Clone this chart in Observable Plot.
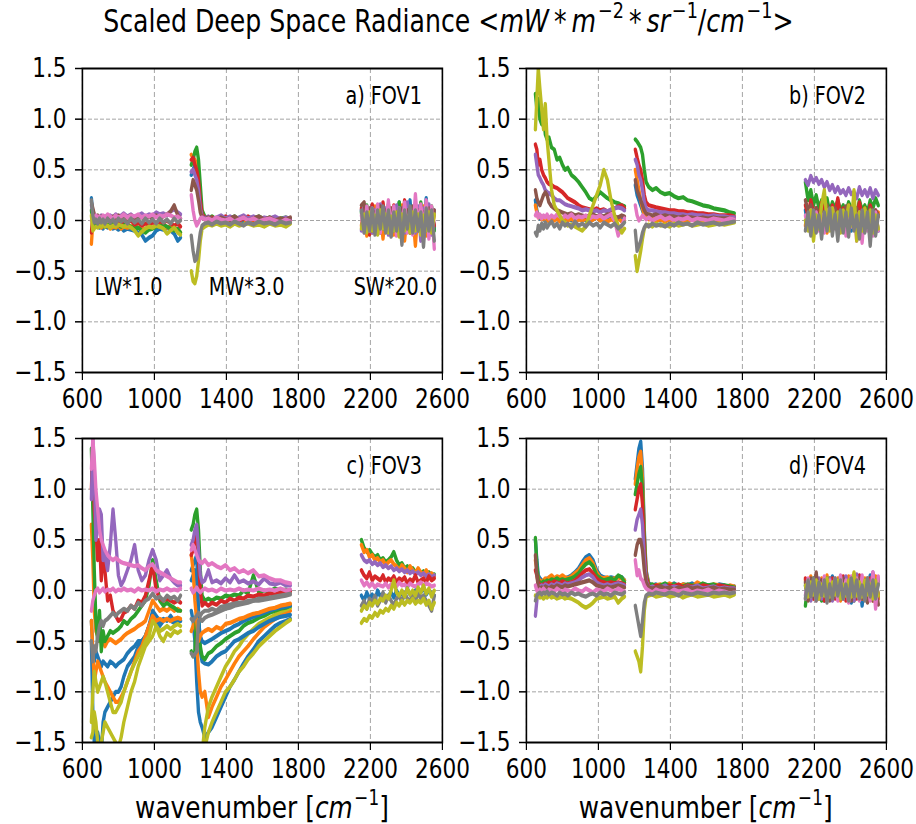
<!DOCTYPE html>
<html><head><meta charset="utf-8">
<script src="https://cdn.jsdelivr.net/npm/d3@7"></script>
<script src="https://cdn.jsdelivr.net/npm/@observablehq/plot@0.6"></script>
<style>
html,body{margin:0;padding:0;background:#fff;overflow:hidden;width:916px;height:824px;}
#fig{position:absolute;left:0;top:0;width:1145px;height:824px;transform:scaleX(0.8);transform-origin:0 0;font-family:"DejaVu Sans";color:#000;}
.abs{position:absolute;}
#title{left:0;width:1121px;top:6px;text-align:center;font-size:31.5px;line-height:31.5px;white-space:nowrap;}
.xlabel{width:450px;top:791.8px;text-align:center;font-size:31px;line-height:31px;white-space:nowrap;}
.sup{font-size:0.7em;position:relative;top:-0.62em;margin-left:0.1em;}
.xlabel .sup{top:-0.6em;font-size:0.68em;}
i{font-style:oblique;}
</style></head>
<body><div id="fig"></div>
<script>
// ---- colors (matplotlib tab10) ----
const COLORS = {blue:"#1f77b4",orange:"#ff7f0e",green:"#2ca02c",red:"#d62728",purple:"#9467bd",brown:"#8c564b",pink:"#e377c2",gray:"#7f7f7f",olive:"#bcbd22"};

// ---- wavenumber grids per band ----
const LW_X = [650,658,666,675,685,695,705,715,725,740,755,770,785,800,815,830,850,870,890,910,930,950,970,990,1010,1030,1050,1070,1090,1110,1130,1145];
const MW_X = [1205,1215,1225,1235,1245,1255,1265,1280,1300,1320,1345,1370,1395,1420,1445,1470,1495,1520,1550,1580,1610,1640,1670,1700,1730,1755];
const SW_X = [2150,2165,2180,2195,2210,2225,2240,2255,2270,2285,2300,2315,2330,2345,2360,2375,2390,2405,2420,2435,2450,2465,2480,2495,2510,2525,2540,2555];
const X_TICKS = [600,1000,1400,1800,2200,2600];
const Y_TICKS = [-1.5,-1,-0.5,0,0.5,1,1.5];

// ---- a) FOV1 ----
const A_LW = {
 blue:[.22,.05,-.03,-.06,-.05,-.07,-.06,-.08,-.05,-.07,-.06,-.08,-.07,-.09,-.07,-.1,-.08,-.09,-.1,-.12,-.14,-.2,-.17,-.15,-.1,-.08,-.09,-.07,-.1,-.13,-.2,-.17],
 orange:[-.23,-.02,-.05,-.04,-.06,-.05,-.07,-.05,-.06,-.05,-.08,-.06,-.07,-.05,-.08,-.06,-.07,-.06,-.05,-.07,-.09,-.08,-.06,-.07,-.05,-.06,-.05,-.07,-.06,-.08,-.1,-.12],
 green:[.1,0,-.04,-.03,-.05,-.04,-.05,-.03,-.06,-.04,-.05,-.03,-.05,-.04,-.06,-.04,-.05,-.06,-.08,-.07,-.1,-.12,-.09,-.08,-.06,-.05,-.04,-.06,-.08,-.1,-.08,-.12],
 red:[-.12,.06,.02,0,-.02,.01,-.03,0,-.02,.01,-.01,.02,-.02,0,-.03,.01,-.02,0,-.04,-.02,-.05,-.03,-.04,-.02,-.03,-.01,-.02,0,-.03,-.05,-.03,-.06],
 purple:[.15,.1,.05,.03,.04,.02,.05,.03,.04,.02,.05,.03,.06,.04,.05,.07,.04,.06,.03,.05,.07,.04,.06,.05,.08,.06,.07,.05,.09,.11,.08,.06],
 brown:[.18,.12,.06,.03,.05,.02,.04,.02,.03,.05,.02,.04,.03,.05,.02,.04,.03,.05,.02,.04,.03,.02,.04,.03,.05,.03,.04,.06,.09,.15,.05,.02],
 pink:[0,.04,.02,.05,.03,.04,.02,.05,.03,.06,.04,.02,.05,.03,.04,.06,.03,.05,.04,.06,.03,.05,.04,.06,.03,.05,.04,.06,.05,.03,.04,.02],
 olive:[.05,-.1,-.08,-.06,-.07,-.05,-.06,-.04,-.06,-.05,-.07,-.05,-.06,-.04,-.05,-.06,-.05,-.07,-.1,-.15,-.11,-.08,-.06,-.07,-.05,-.06,-.08,-.13,-.1,-.07,-.12,-.14],
 gray:[.2,.05,-.02,.01,-.03,.02,-.02,.01,-.03,.02,-.02,.01,-.03,.02,-.01,.01,-.03,.02,-.02,.01,-.03,.02,-.02,.01,-.03,.02,-.02,.01,-.03,.02,-.02,0]
};
const A_MW = {
 blue:[.45,.5,.55,.5,.35,.15,.05,.03,.02,0,.01,-.01,.02,0,-.02,.01,-.01,.02,0,-.03,.01,0,-.02,.01,-.01,0],
 orange:[.65,.62,.6,.55,.4,.2,.07,.03,0,.02,-.01,.01,-.02,.02,-.01,0,.02,-.02,.01,-.01,.02,0,-.01,.02,-.02,0],
 green:[.55,.6,.68,.72,.6,.35,.1,.04,.02,.04,.01,.03,0,.02,.04,.01,.03,0,.02,.04,.01,.03,0,.02,.03,.01],
 red:[.6,.62,.55,.5,.4,.2,.06,.03,.01,.03,0,.02,.04,.01,.03,0,.02,.04,.01,.03,0,.02,.03,.01,.02,0],
 purple:[.48,.5,.45,.4,.3,.12,.04,.02,.04,.01,.03,.05,.02,.04,.01,.03,.05,.02,.04,.01,.03,.02,.04,.01,.03,.02],
 brown:[.3,.4,.35,.3,.2,.08,.03,.01,.03,.02,0,.03,.01,.02,.04,.01,.03,0,.02,.04,.01,.03,0,.02,.01,.03],
 pink:[.25,.1,0,-.05,-.02,.02,.03,.01,.02,0,.03,.01,0,.02,-.01,.01,.03,0,.02,-.01,.01,.02,0,-.02,.01,-.01],
 olive:[-.5,-.6,-.62,-.55,-.4,-.2,-.08,-.06,-.04,-.05,-.03,-.05,-.04,-.06,-.03,-.05,-.04,-.03,-.05,-.04,-.06,-.03,-.05,-.04,-.06,-.03],
 gray:[-.15,-.3,-.4,-.38,-.25,-.12,-.05,-.03,-.02,-.04,-.01,-.03,-.02,-.04,-.01,-.03,-.05,-.02,-.04,-.01,-.03,-.02,-.04,-.01,-.03,-.02]
};
const A_SW = {
 blue:[.1,-.08,.12,-.05,.15,-.1,.08,-.12,.14,-.06,.1,-.15,.12,-.08,.18,-.1,.09,-.05,.2,-.12,.1,-.08,.16,-.1,.22,-.06,.12,-.08],
 orange:[-.05,.12,-.15,.1,-.12,.14,-.08,.1,-.18,.08,-.1,.12,-.14,.1,-.08,.15,-.2,.1,-.12,.08,-.25,.12,-.1,.14,-.15,.1,-.12,.06],
 green:[.08,-.1,.15,-.06,.1,-.12,.14,-.08,.12,-.1,.16,-.05,.1,-.12,.18,-.08,.14,-.1,.12,-.06,.15,-.1,.18,-.12,.1,-.08,.14,-.1],
 red:[.12,-.06,.1,-.14,.16,-.08,.12,-.1,.18,-.05,.1,-.12,.15,-.1,.08,-.14,.2,-.08,.12,-.1,.14,-.06,.1,-.15,.16,-.1,.12,-.05],
 purple:[-.1,.14,-.08,.12,-.12,.1,-.1,.16,-.06,.12,-.14,.1,-.08,.15,-.1,.12,-.12,.18,-.08,.1,-.12,.14,-.2,.12,-.1,.16,-.14,.1],
 brown:[.15,.18,-.05,.12,-.1,.08,-.12,.14,-.08,.1,-.06,.12,-.1,.08,-.14,.12,-.08,.1,-.12,.14,-.06,.1,-.12,.08,-.1,.12,-.08,.1],
 pink:[.05,-.12,.14,-.1,.12,-.08,.16,-.12,.1,-.06,.2,-.1,.14,-.15,.12,-.08,.18,-.12,.1,-.14,.26,-.1,.16,-.12,.2,-.18,.14,-.28],
 olive:[-.08,.06,-.12,.08,-.1,.05,-.14,.1,-.08,.06,-.12,.04,-.1,.08,-.16,.06,-.1,.04,-.12,.08,-.1,.06,-.14,.05,-.1,.08,-.12,.06],
 gray:[.1,-.12,.08,-.1,.12,-.14,.1,-.08,.14,-.12,.1,-.16,.08,-.1,.12,-.24,.1,-.08,.14,-.12,.1,-.1,.08,-.26,.12,-.1,.1,-.2]
};

// ---- b) FOV2 ----
const B_LW = {
 blue:[.2,.1,.05,.02,.04,.01,.03,0,.02,.04,.01,.03,0,.02,.01,.03,0,.02,.01,.03,0,.02,.01,.03,0,.02,.01,.03,0,.02,.01,0],
 orange:[.15,.08,.03,.05,.01,.03,0,.02,-.01,.03,0,.02,-.01,.01,.03,0,.02,-.01,.01,0,.02,-.01,.01,.03,0,.02,-.01,.01,0,.02,-.01,0],
 green:[1.25,1.1,1.2,1,.95,1.05,.85,.8,.82,.72,.7,.6,.62,.55,.5,.52,.45,.42,.38,.33,.28,.22,.2,.24,.28,.25,.22,.2,.18,.17,.15,.14],
 red:[.75,.7,.55,.6,.5,.45,.42,.38,.36,.35,.33,.32,.3,.28,.25,.22,.2,.18,.15,.13,.12,.11,.1,.12,.1,.11,.09,.1,.12,.14,.15,.12],
 purple:[.65,.55,.45,.42,.38,.35,.3,.28,.27,.25,.22,.2,.2,.18,.16,.15,.14,.13,.12,.1,.11,.1,.09,.1,.08,.1,.09,.11,.12,.13,.12,.1],
 brown:[.3,.22,.18,.15,.2,.25,.28,.25,.18,.14,.12,.1,.09,.08,.07,.06,.07,.05,.06,.05,.04,.05,.06,.04,.05,.04,.06,.05,.04,.03,.05,.04],
 pink:[.05,.08,.03,.06,.02,.05,.03,.06,.02,.05,.03,.06,.04,.02,.05,.03,.06,.02,.04,.03,.05,.02,.04,.03,.05,.02,.04,.06,0,-.15,-.05,.02],
 olive:[.9,1.2,1.5,1.3,1.1,.9,1.15,.8,.6,.3,.15,.1,.05,0,-.02,-.05,-.04,-.06,-.08,-.1,-.06,.05,.15,.25,.35,.5,.4,.2,.05,-.05,-.12,-.08],
 gray:[-.12,-.15,-.05,-.1,-.03,-.08,-.02,-.07,-.04,-.01,-.06,-.03,-.08,-.02,-.05,-.03,-.07,-.01,-.05,-.03,-.06,-.02,-.05,-.03,-.07,-.02,-.04,-.06,-.03,-.08,-.05,-.02]
};
const B_MW = {
 blue:[.35,.25,.2,.15,.1,.05,.03,.02,.01,.02,0,.01,.02,0,.01,.02,0,.01,0,.02,.01,0,.01,.02,0,.01],
 orange:[.5,.4,.3,.2,.12,.06,.03,.01,.02,0,.01,-.01,.01,0,.02,-.01,0,.01,-.01,0,.01,-.01,0,.01,0,0],
 green:[.8,.78,.75,.72,.65,.5,.38,.33,.3,.32,.28,.26,.27,.24,.22,.23,.2,.19,.17,.15,.14,.12,.11,.1,.08,.07],
 red:[.7,.62,.55,.5,.4,.25,.18,.15,.14,.13,.12,.11,.1,.1,.09,.09,.08,.08,.07,.07,.06,.06,.05,.05,.05,.04],
 purple:[.6,.55,.45,.4,.3,.18,.12,.1,.1,.09,.08,.08,.07,.07,.06,.06,.05,.06,.05,.05,.04,.05,.04,.04,.03,.03],
 brown:[.4,.3,.25,.2,.15,.1,.07,.06,.05,.06,.04,.05,.04,.04,.03,.04,.03,.03,.02,.03,.02,.03,.02,.02,.02,.01],
 pink:[.15,.05,0,.02,.05,.03,.01,.03,0,.02,.04,.01,.03,0,.02,.01,.03,0,.02,.01,0,.02,.01,0,.02,.01],
 olive:[-.35,-.5,-.4,-.3,-.18,-.08,-.05,-.04,-.06,-.03,-.05,-.04,-.06,-.03,-.05,-.04,-.03,-.05,-.04,-.03,-.05,-.04,-.03,-.04,-.03,-.02],
 gray:[-.1,-.3,-.25,-.2,-.12,-.07,-.04,-.06,-.03,-.05,-.04,-.06,-.03,-.05,-.02,-.04,-.03,-.05,-.02,-.04,-.03,-.02,-.04,-.03,-.02,-.01]
};
const B_SW = {
 blue:[.1,-.05,.08,-.08,.12,-.04,.06,-.1,.1,-.06,.08,-.04,.12,-.08,.06,-.05,.1,-.1,.08,-.06,.1,-.04,.08,-.08,.12,-.05,.06,-.1],
 orange:[-.05,.1,-.08,.06,-.1,.08,-.06,.1,-.12,.05,-.08,.1,-.06,.08,-.1,.05,-.08,.1,-.06,.12,-.1,.06,-.08,.1,-.12,.06,-.1,.08],
 green:[.38,.2,.3,.15,.25,.12,.2,.1,.22,.08,.18,.12,.2,.1,.15,.08,.18,.12,.15,.06,.2,.1,.15,.08,.2,.12,.22,.15],
 red:[.15,.05,.2,.08,.12,.02,.18,.06,.1,0,.15,.05,.22,.04,.12,0,.15,.06,.1,.02,.18,.05,.12,0,.15,.06,.1,.05],
 purple:[.4,.35,.44,.38,.42,.36,.4,.33,.38,.3,.35,.28,.33,.27,.3,.25,.32,.26,.28,.22,.33,.25,.3,.24,.32,.22,.3,.25],
 brown:[.2,.1,.15,.05,.12,0,.1,.05,.15,.02,.08,.12,0,.1,.05,.14,.02,.1,.06,.12,0,.08,.1,.02,.12,.05,.1,.04],
 pink:[.05,-.08,.1,-.05,.08,-.1,.06,-.12,.1,-.04,.12,-.08,.05,-.1,.08,-.15,.1,-.06,.12,-.2,.08,-.22,.1,-.1,.06,-.15,.08,-.1],
 olive:[0,-.1,.1,-.2,.05,-.08,.15,.3,0,-.1,.12,-.05,.08,-.12,.1,0,.15,-.05,.3,-.2,.08,-.1,.12,-.05,.1,-.12,.05,-.08],
 gray:[-.1,.08,-.15,.1,-.12,.05,-.18,.08,-.1,.12,-.15,.06,-.2,.1,-.12,.08,-.16,.12,-.1,.05,-.18,.1,-.12,.08,-.25,.1,-.15,.05]
};

// ---- c) FOV3 ----
const C_LW = {
 blue:[-.5,-1.2,-1.5,-1.6,-1.4,-1.5,-1.6,-1.3,-1.2,-1.15,-1.1,-1.05,-1,-1,-.95,-.85,-.75,-.7,-.65,-.55,-.5,-.45,-.35,-.2,-.25,-.3,-.28,-.3,-.25,-.3,-.27,-.3],
 blue2:[-.3,-.6,-.7,-.6,-.65,-.7,-.75,-.7,-.72,-.75,-.7,-.72,-.75,-.72,-.7,-.68,-.62,-.58,-.55,-.5,-.5,-.45,-.35,-.25,-.3,-.35,-.3,-.28,-.3,-.32,-.3,-.3],
 orange:[.65,.3,-.2,-.4,-.45,-.5,-.45,-.5,-.55,-.5,-.48,-.5,-.52,-.5,-.48,-.45,-.42,-.4,-.38,-.35,-.33,-.3,-.2,-.1,-.15,-.2,-.18,-.2,-.17,-.2,-.18,-.2],
 orange2:[-.3,-.6,-.9,-.8,-.7,-.75,-.8,-.85,-.9,-.95,-1,-1.05,-1.1,-1.1,-1.05,-1,-.9,-.8,-.7,-.6,-.55,-.45,-.35,-.25,-.3,-.28,-.3,-.28,-.3,-.28,-.27,-.28],
 green:[1.4,.8,.2,-.3,-.5,-.2,-.6,-.4,-.5,-.45,-.4,-.42,-.4,-.38,-.35,-.3,-.33,-.28,-.25,-.2,-.15,-.1,.05,.3,.1,-.1,-.15,-.12,-.15,-.17,-.2,-.2],
 red:[1,1.4,.8,.6,.3,.5,.1,.4,.2,-.1,-.05,-.2,-.25,-.3,-.28,-.22,-.2,-.15,-.18,-.1,-.12,-.05,.1,.25,0,-.08,-.1,-.08,-.1,-.12,-.1,-.12],
 purple:[.9,1.5,1.2,.5,.6,.8,.75,.3,.35,.2,.45,.8,.5,.15,.05,.1,.2,.3,.45,.2,.1,.15,.3,.4,.3,.1,.15,.2,.12,.08,.05,.05],
 olive:[-1.45,-1.4,-1.2,-1.3,-1.5,-1.6,-1.5,-1.4,-1.3,-1.35,-1.4,-1.45,-1.5,-1.55,-1.45,-1.3,-1.15,-1,-.9,-.75,-.65,-.55,-.5,-.45,-.35,-.45,-.5,-.42,-.45,-.4,-.42,-.4],
 olive2:[-1.3,-1,-.8,-.9,-1,-.95,-.9,-.85,-.9,-1,-1.1,-1.2,-1.2,-1.15,-1.1,-1,-.9,-.8,-.72,-.65,-.58,-.5,-.45,-.3,-.35,-.4,-.38,-.35,-.38,-.35,-.33,-.35],
 gray:[-.5,-.7,-.55,-.6,-.45,-.35,-.3,-.35,-.3,-.28,-.25,-.22,-.25,-.22,-.2,-.18,-.2,-.15,-.18,-.12,-.15,-.1,-.08,-.03,-.08,-.06,-.1,-.05,-.08,-.06,-.1,-.05],
 pink2:[1.2,1.5,1.3,1,.8,.6,.5,.45,.4,.35,.32,.3,.32,.3,.28,.27,.26,.25,.24,.25,.22,.2,.24,.26,.2,.18,.16,.14,.12,.1,.08,.08],
 pink:[-.2,-.1,-.05,0,.02,-.02,0,.02,-.01,.01,0,.02,-.01,.01,0,.02,0,.01,-.01,.02,0,.01,0,.02,-.01,.01,0,.02,0,.01,0,.02]
};
const C_MW = {
 blue3:[-.2,-.3,-.5,-.9,-1.2,-1.3,-1.35,-1.45,-1.4,-1.35,-1.25,-1.15,-1.05,-.95,-.88,-.8,-.72,-.65,-.58,-.5,-.45,-.4,-.35,-.32,-.3,-.28],
 olive:[null,null,null,null,null,null,-1.8,-1.55,-1.4,-1.3,-1.2,-1.1,-1,-.95,-.88,-.8,-.75,-.68,-.62,-.55,-.5,-.45,-.4,-.36,-.32,-.29],
 orange2:[-.4,-.35,-.3,-.5,-.8,-1,-1.05,-1,-1.25,-1.15,-1.05,-.95,-.88,-.8,-.72,-.65,-.6,-.55,-.48,-.42,-.36,-.32,-.28,-.25,-.22,-.2],
 olive2:[null,null,null,null,null,-1.9,-1.6,-1.35,-1.15,-1.05,-.95,-.85,-.75,-.68,-.6,-.55,-.48,-.43,-.38,-.33,-.3,-.27,-.24,-.21,-.19,-.17],
 blue:[.2,.25,.3,.35,-.2,-.6,-.7,-.72,-.73,-.7,-.65,-.62,-.6,-.55,-.5,-.48,-.45,-.42,-.4,-.36,-.33,-.3,-.28,-.26,-.25,-.24],
 green2:[-.6,-.65,-.6,-.2,-.3,-.55,-.65,-.68,-.62,-.6,-.55,-.52,-.48,-.45,-.42,-.4,-.35,-.32,-.3,-.27,-.25,-.22,-.2,-.18,-.17,-.15],
 blue2:[.1,.15,.2,.1,-.3,-.45,-.5,-.52,-.5,-.48,-.45,-.42,-.4,-.38,-.35,-.33,-.3,-.28,-.26,-.24,-.22,-.2,-.18,-.17,-.16,-.15],
 orange:[.35,.2,-.1,-.3,-.5,-.45,-.42,-.4,-.38,-.4,-.36,-.38,-.33,-.32,-.3,-.28,-.27,-.25,-.23,-.22,-.2,-.18,-.17,-.15,-.14,-.13],
 gray2:[-.62,-.65,-.63,-.6,-.3,-.28,-.3,-.27,-.25,-.24,-.22,-.2,-.18,-.17,-.15,-.14,-.13,-.12,-.1,-.1,-.09,-.08,-.07,-.06,-.05,-.04],
 green:[.6,.65,.75,.8,.6,.2,-.05,-.1,-.08,-.1,-.07,-.08,-.05,-.06,-.04,-.05,0,-.03,.15,-.02,0,-.01,.02,0,.01,0],
 red:[.35,.4,.5,.55,.3,0,-.15,-.12,-.15,-.12,-.14,-.1,-.12,-.08,-.1,-.07,-.08,-.05,-.06,-.04,-.05,-.03,-.04,-.02,-.03,-.01],
 gray:[-.28,-.3,-.27,-.25,-.22,-.25,-.22,-.2,-.2,-.18,-.2,-.16,-.15,-.14,-.13,-.12,-.12,-.1,-.1,-.08,-.08,-.07,-.06,-.05,-.04,-.03],
 purple:[.45,.5,.6,.65,.4,.15,.08,.1,.2,.08,.1,.07,.12,.08,.15,.08,.1,.07,.09,.06,.12,.07,.06,.08,.05,.05],
 pink2:[.4,.45,.4,.35,.3,.28,.27,.3,.25,.27,.24,.22,.25,.2,.22,.18,.2,.17,.2,.14,.15,.12,.1,.1,.08,.07],
 pink:[.02,-.02,0,.03,0,-.02,0,.02,0,.01,-.01,.02,0,.01,0,.02,0,.01,0,.02,0,.01,0,.02,0,.01]
};
const C_SW = {
 green:[.5,.42,.38,.4,.36,.33,.35,.3,.32,.28,.3,.33,.38,.3,.25,.27,.22,.24,.2,.22,.18,.2,.17,.19,.16,.18,.15,.16],
 orange:[.45,.38,.4,.33,.35,.3,.32,.28,.3,.25,.28,.3,.26,.24,.2,.25,.22,.18,.24,.2,.17,.22,.18,.16,.2,.15,.17,.14],
 purple:[.35,.3,.28,.3,.26,.28,.25,.27,.23,.25,.22,.24,.2,.22,.19,.21,.18,.2,.17,.19,.16,.18,.15,.17,.14,.16,.13,.15],
 red:[.2,.15,.12,.18,.1,.14,.12,.1,.15,.08,.12,.1,.14,.08,.12,.1,.13,.07,.11,.09,.15,.08,.1,.12,.08,.14,.1,.12],
 pink:[.1,.05,.08,.04,.07,.03,.06,.05,.04,.07,.03,.06,.05,.04,.08,.05,.06,.03,.07,.05,.04,.06,.08,.05,.07,.06,.04,.05],
 blue:[-.05,-.1,-.02,-.08,-.04,-.1,0,-.06,-.03,-.08,-.05,-.02,-.07,0,-.05,-.03,-.06,.02,-.04,-.02,0,-.05,-.02,.03,-.04,0,-.03,-.05],
 gray:[-.15,-.1,-.18,-.08,-.12,-.05,-.15,-.1,-.02,-.12,-.05,-.1,-.15,-.08,-.05,-.12,-.02,-.08,-.1,-.05,-.12,0,-.08,-.05,-.1,-.15,-.2,-.05],
 olive:[-.32,-.28,-.3,-.25,-.27,-.22,-.25,-.2,-.22,-.18,-.2,-.15,-.18,-.12,-.15,-.1,-.14,-.1,-.12,-.08,-.13,-.1,-.12,-.08,-.14,-.1,-.18,-.12],
 olive2:[-.2,-.15,-.18,-.12,-.15,-.1,-.13,-.08,-.1,-.05,-.08,0,.1,-.02,-.05,0,-.06,.02,-.04,0,-.05,.03,-.02,.05,-.03,.02,-.06,0]
};

// ---- d) FOV4 ----
const D_LW = {
 blue:[.5,.3,.15,.12,.1,.08,.1,.12,.1,.12,.11,.13,.12,.14,.12,.13,.15,.18,.22,.28,.33,.35,.3,.2,.15,.13,.12,.13,.12,.14,.13,.1],
 orange:[.3,.2,.12,.1,.08,.1,.12,.1,.13,.15,.12,.14,.13,.15,.13,.12,.14,.17,.2,.25,.3,.32,.27,.18,.13,.12,.13,.11,.12,.13,.12,.1],
 green:[.52,.25,.1,.08,.07,.09,.08,.1,.09,.11,.1,.12,.1,.11,.1,.11,.12,.14,.17,.22,.26,.28,.24,.15,.12,.1,.11,.12,.1,.15,.13,.08],
 red:[.2,.15,.07,.06,.05,.06,.07,.06,.08,.07,.09,.08,.07,.09,.08,.07,.08,.1,.13,.17,.2,.21,.17,.12,.09,.08,.07,.08,.07,.08,.07,.06],
 purple:[-.25,-.1,.05,.04,.05,.04,.06,.05,.04,.06,.05,.07,.06,.05,.07,.06,.07,.08,.1,.13,.15,.16,.13,.08,.06,.05,.06,.05,.06,.07,.06,.05],
 brown:[.35,.15,.03,.02,.03,.02,.04,.03,.02,.04,.03,.05,.04,.03,.05,.04,.05,.06,.07,.08,.09,.1,.08,.05,.04,.03,.04,.03,.04,.05,.04,.03],
 pink:[.05,0,-.02,.01,-.01,.02,0,-.02,.01,0,-.01,.02,0,-.02,.01,0,-.01,.02,0,-.01,.02,0,-.02,.01,0,-.01,.02,0,-.01,.02,0,-.01],
 olive:[-.05,-.06,-.05,-.07,-.06,-.08,-.06,-.07,-.05,-.07,-.06,-.08,-.07,-.06,-.08,-.07,-.08,-.1,-.12,-.15,-.17,-.15,-.12,-.08,-.07,-.06,-.08,-.07,-.06,-.12,-.08,-.06],
 gray:[-.1,-.05,-.03,-.02,-.04,-.02,-.03,-.01,-.04,-.02,-.03,-.05,-.02,-.04,-.03,-.05,-.02,-.04,-.03,-.05,-.06,-.04,-.03,-.05,-.02,-.04,-.03,-.05,-.02,-.03,-.04,-.02]
};
const D_MW = {
 blue:[1.1,1.25,1.4,1.47,1.2,.6,.2,.07,.05,.06,.04,.06,.05,.07,.04,.06,.05,.07,.04,.06,.05,.04,.06,.05,.03,.04],
 orange:[1.05,1.2,1.32,1.37,1.1,.55,.18,.06,.04,.05,.06,.04,.07,.05,.04,.06,.05,.04,.08,.05,.04,.06,.05,.03,.05,.04],
 green:[.95,1.05,1.15,1.22,1,.5,.16,.05,.06,.04,.05,.07,.04,.06,.05,.04,.06,.05,.04,.07,.05,.06,.04,.05,.04,.03],
 red:[.8,.9,1,1.05,.85,.42,.14,.04,.03,.05,.04,.03,.05,.04,.06,.03,.05,.04,.03,.05,.04,.03,.05,.04,.03,.02],
 purple:[.6,.7,.75,.8,.65,.32,.1,.03,.04,.02,.03,.05,.02,.04,.03,.02,.04,.03,.05,.02,.03,.04,.02,.03,.02,.02],
 brown:[.35,.45,.5,.5,.4,.2,.08,.03,.02,.03,.04,.02,.03,.01,.03,.02,.04,.02,.03,.01,.02,.03,.01,.02,.01,.01],
 pink:[.3,.15,.2,.12,.1,.05,.02,0,-.02,.01,-.01,0,-.02,.01,-.01,0,.01,-.02,0,-.01,.01,-.02,0,-.01,-.03,-.02],
 olive:[-.6,-.65,-.7,-.8,-.55,-.2,-.06,-.05,-.04,-.06,-.05,-.04,-.06,-.05,-.04,-.07,-.05,-.04,-.06,-.05,-.04,-.06,-.05,-.04,-.06,-.04],
 gray:[-.15,-.25,-.35,-.45,-.3,-.12,-.05,-.03,-.04,-.02,-.03,-.04,-.02,-.03,-.05,-.02,-.03,-.04,-.02,-.03,-.04,-.02,-.03,-.02,-.03,-.02]
};
const D_SW = {
 blue:[.05,-.08,.1,-.05,.12,-.06,.08,-.1,.1,-.04,.14,-.06,.1,-.08,.12,-.05,.1,-.12,.14,-.06,.12,-.15,.1,-.05,.15,-.08,.12,-.06],
 orange:[.1,-.05,.14,-.08,.1,-.04,.12,-.06,.15,-.08,.1,-.05,.12,-.1,.08,-.06,.14,-.08,.16,-.05,.1,-.08,.12,-.06,.1,-.1,.14,-.08],
 green:[-.15,.1,-.08,.12,-.06,.1,-.1,.08,-.05,.12,-.08,.1,-.06,.14,-.08,.1,-.05,.12,-.1,.08,-.06,.1,-.08,.12,-.05,.16,-.08,.1],
 red:[.12,-.06,.1,-.08,.14,-.05,.1,-.1,.08,-.06,.12,-.08,.1,-.05,.14,-.1,.08,-.06,.12,-.08,.15,-.05,.1,-.08,.12,-.06,.1,-.05],
 purple:[-.05,.1,-.1,.08,-.06,.12,-.08,.1,-.05,.12,-.1,.08,-.06,.1,-.08,.14,-.06,.12,-.1,.16,-.08,.12,-.06,.1,-.08,.18,-.1,.12],
 brown:[.08,-.1,.12,-.06,.18,-.08,.1,-.05,.12,-.1,.08,-.06,.1,-.08,.12,-.05,.08,-.1,.1,-.06,.12,-.08,.1,-.12,.08,-.1,.06,-.14],
 pink:[-.08,.12,-.06,.1,-.1,.08,-.05,.14,-.08,.1,-.06,.12,-.1,.15,-.08,.1,-.12,.14,-.06,.12,-.1,.15,-.08,.12,-.1,.18,-.18,.14],
 olive:[.05,-.06,.08,-.04,.1,-.08,.06,-.05,.12,-.06,.08,-.04,.1,-.08,.06,-.05,.1,-.06,.18,-.05,.08,-.06,.1,-.04,.06,-.08,.1,-.05],
 gray:[-.08,.1,-.06,.12,-.1,.08,-.05,.1,-.12,.06,-.08,.12,-.05,.1,-.08,.06,-.1,.12,-.06,.1,-.08,.05,-.1,.12,-.06,.1,-.08,.06]
};

const PANEL_LABELS = ["a) FOV1","b) FOV2","c) FOV3","d) FOV4"];
const BAND_LABELS = ["LW*1.0","MW*3.0","SW*20.0"];
const BAND_LABEL_X = [667,1302,2107];
const BAND_LABEL_Y = -0.656;

// ---- layout (internal units; whole figure is compressed by scaleX(0.8)) ----
const fig = document.getElementById("fig");
const ML = 102.5, PW = 450, PH = 304, MT = 10, MB = 45, MR = 10;
const yFmt = d => (d < 0 ? "\u2212" : "") + Math.abs(d).toFixed(1);

function bandMarks(X, obj) {
  return Object.keys(obj).map(k => {
    const vals = obj[k];
    const rows = X.map((x, i) => ({x, y: vals[i]}));
    return Plot.line(rows, {x: "x", y: "y", stroke: COLORS[k.replace(/\d+$/, "")], strokeWidth: 4.2, clip: true, strokeLinejoin: "round", strokeLinecap: "round"});
  });
}

function panel(idx, lw, mw, sw, left, top) {
  const marks = [
    Plot.gridX(X_TICKS, {stroke: "#9a9a9a", strokeOpacity: 1, strokeWidth: 1, strokeDasharray: "5,3"}),
    Plot.gridY(Y_TICKS, {stroke: "#9a9a9a", strokeOpacity: 1, strokeWidth: 1, strokeDasharray: "5,2.5"}),
    ...bandMarks(LW_X, lw), ...bandMarks(MW_X, mw), ...bandMarks(SW_X, sw),
    Plot.frame({stroke: "black", strokeWidth: 2}),
    Plot.text([PANEL_LABELS[idx]], {x: 2486, y: 1.23, text: d => d, textAnchor: "end", lineAnchor: "middle", fontSize: 24, fill: "black"}),
    Plot.axisX(X_TICKS, {tickSize: 8, tickPadding: 8, tickFormat: d => String(d), fontSize: 27, strokeWidth: 1.5, label: null}),
    Plot.axisY(Y_TICKS, {tickSize: 8.75, tickPadding: 11, tickFormat: yFmt, fontSize: 27, strokeWidth: 1.5, label: null})
  ];
  if (idx === 0) {
    marks.push(Plot.text(BAND_LABELS, {x: (d, i) => BAND_LABEL_X[i], y: BAND_LABEL_Y, text: d => d, textAnchor: "start", lineAnchor: "middle", fontSize: 24, fill: "black"}));
  }
  const svg = Plot.plot({
    width: ML + PW + MR, height: MT + PH + MB,
    marginLeft: ML, marginRight: MR, marginTop: MT, marginBottom: MB,
    x: {domain: [600, 2600]},
    y: {domain: [-1.5, 1.5]},
    style: {fontFamily: "DejaVu Sans", fontSize: "27px", background: "transparent", overflow: "visible", color: "black"},
    marks
  });
  svg.style.position = "absolute";
  svg.style.left = left + "px";
  svg.style.top = top + "px";
  svg.style.maxWidth = "none";
  fig.appendChild(svg);
}

panel(0, A_LW, A_MW, A_SW, 0, 58);
panel(1, B_LW, B_MW, B_SW, 554.6, 58);
panel(2, C_LW, C_MW, C_SW, 0, 428.3);
panel(3, D_LW, D_MW, D_SW, 554.6, 428.3);

const title = document.createElement("div");
title.id = "title"; title.className = "abs";
title.innerHTML = 'Scaled Deep Space Radiance &lt;<i>mW</i>\u2009*\u2009<i>m</i><span class="sup">\u22122</span>\u2009*\u2009<i>sr</i><span class="sup">\u22121</span>/<i>cm</i><span class="sup">\u22121</span>&gt;';
fig.appendChild(title);

[102.5, 657.1].forEach(l => {
  const xl = document.createElement("div");
  xl.className = "abs xlabel";
  xl.style.left = l + "px";
  xl.innerHTML = 'wavenumber [<i>cm</i><span class="sup">\u22121</span>]';
  fig.appendChild(xl);
});
</script>
</body></html>
